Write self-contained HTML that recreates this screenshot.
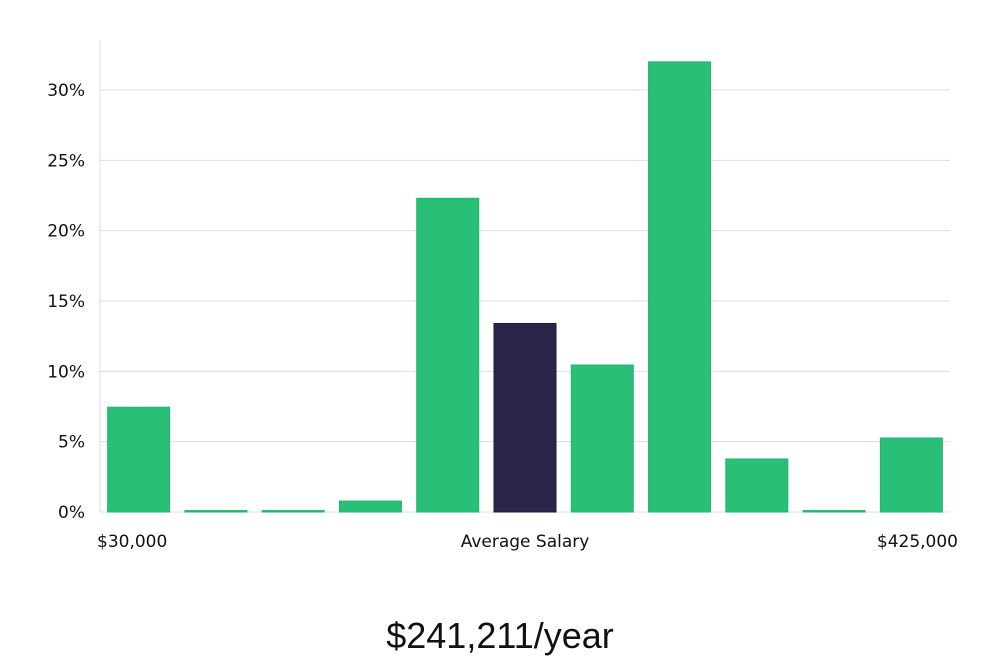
<!DOCTYPE html>
<html><head><meta charset="utf-8"><style>
body{margin:0;background:#fff;width:1000px;height:660px;overflow:hidden}
text{font-family:"DejaVu Sans","Liberation Sans",sans-serif}
</style></head><body>
<svg id="chart" width="1000" height="660" xmlns="http://www.w3.org/2000/svg">
<g id="grid"></g>
<g id="bars"></g>
<line x1="100" y1="40" x2="100" y2="512" stroke="#ddd" stroke-width="1"/>
<text x="97" y="547" font-size="17" fill="#111">$30,000</text>
<text x="525" y="547" font-size="17" fill="#111" text-anchor="middle">Average Salary</text>
<text x="958" y="547" font-size="17" fill="#111" text-anchor="end">$425,000</text>
<text x="500" y="648" font-size="36" fill="#111" text-anchor="middle" style="font-family:'Liberation Sans',sans-serif;font-weight:300">$241,211/year</text>
</svg>
<script>
const categories=["b1","b2","b3","b4","b5","b6","b7","b8","b9","b10","b11"];
const values=[7.45,0.1,0.1,0.78,22.3,13.4,10.45,32.0,3.77,0.1,5.26];
const highlightIndex=5;
const yTicks=[0,5,10,15,20,25,30];
const tickLabels=["0%","5%","10%","15%","20%","25%","30%"];
const NS="http://www.w3.org/2000/svg";
const x0=100,x1=950,yBase=512,pxPerPct=(512-90)/30;
const y=v=>yBase-v*pxPerPct;
const step=(x1-x0)/categories.length;
const grid=document.getElementById('grid');
yTicks.forEach((t,i)=>{
  const l=document.createElementNS(NS,'line');
  
  
  l.setAttribute('x1',x0);l.setAttribute('x2',x1);
  l.setAttribute('y1',y(t));l.setAttribute('y2',y(t));
  l.setAttribute('stroke','#ddd');
  grid.appendChild(l);
  const tx=document.createElementNS(NS,'text');
  
  
  tx.setAttribute('x',85);tx.setAttribute('y',y(t)+6);
  tx.setAttribute('text-anchor','end');tx.setAttribute('font-size','17');tx.setAttribute('fill','#111');
  tx.textContent=tickLabels[i];
  grid.appendChild(tx);
});
const bars=document.getElementById('bars');
values.forEach((v,i)=>{
  const r=document.createElementNS(NS,'rect');
  
  
  const cx=x0+step*(i+0.5);
  r.setAttribute('x',cx-31);r.setAttribute('width',62);
  r.setAttribute('y',y(v));r.setAttribute('height',Math.max(1,yBase-y(v)));
  const hl=i===highlightIndex;
  r.setAttribute('fill',hl?'#29264a':'#29bf77');
  r.setAttribute('stroke',hl?'#1a1838':'#22b56d');
  r.setAttribute('stroke-width','1');
  bars.appendChild(r);
});
</script>
</body></html>
